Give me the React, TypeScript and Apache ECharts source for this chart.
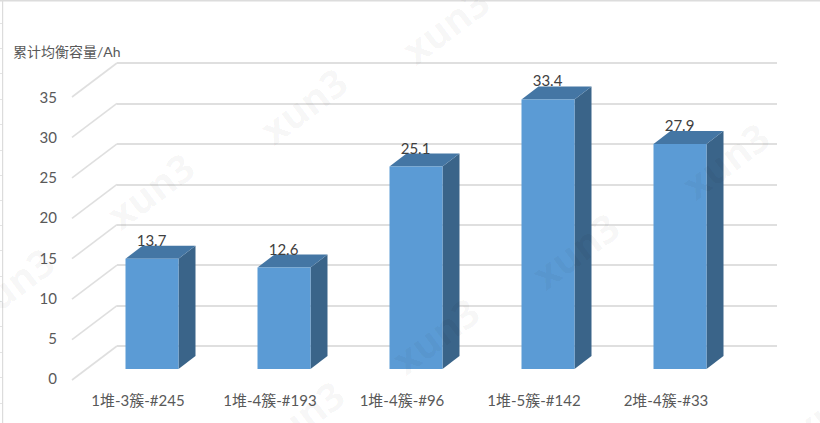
import React, { useEffect, useRef } from "react";
import * as echarts from "echarts";

const categories = ["1堆-3簇-#245", "1堆-4簇-#193", "1堆-4簇-#96", "1堆-5簇-#142", "2堆-4簇-#33"];
const values = [13.7, 12.6, 25.1, 33.4, 27.9];
const yTicks = [0, 5, 10, 15, 20, 25, 30, 35];
const yAxisTitle = "累计均衡容量/Ah";
const watermarkText = "xun3";
const watermarks = [
  [10, 285], [150, 190], [303, 105], [445, 25],
  [300, 418], [435, 335], [575, 250], [725, 160], [835, 405],
];
const sheetTicks = [23, 48, 73, 99, 124, 150, 175, 200, 225, 250, 276, 301, 326, 352, 377, 403];

const FONT = "Lato, 'Noto Sans CJK SC', sans-serif";
const GRID_LINE = "#DFDFDF";
const DX = 45, DY = 34; // wall-to-front shift of the axis lines

export default function App() {
  const ref = useRef<HTMLDivElement>(null);
  useEffect(() => {
    const chart = echarts.init(ref.current!, undefined, { renderer: "svg" });
    const labelColor = "#595959";
    chart.setOption({
      animation: false,
      backgroundColor: "#fff",
      grid: [
        { left: 117, top: 63, width: 660, height: 283 },
        { left: 72, top: 97, width: 660, height: 281 },
      ],
      xAxis: [
        { type: "category", gridIndex: 0, data: categories, show: false },
        {
          type: "category", gridIndex: 1, data: categories,
          axisLine: { show: false }, axisTick: { show: false },
          axisLabel: { color: labelColor, fontSize: 15, fontFamily: FONT, margin: 14, interval: 0 },
        },
      ],
      yAxis: [
        {
          type: "value", gridIndex: 0, min: 0, max: 35, interval: 5,
          axisLine: { show: false }, axisTick: { show: false }, axisLabel: { show: false },
          splitLine: { show: true, lineStyle: { color: GRID_LINE, width: 2 } },
        },
        {
          type: "value", gridIndex: 1, min: 0, max: 35, interval: 5,
          axisLine: { show: false }, axisTick: { show: false }, splitLine: { show: false },
          axisLabel: { color: labelColor, fontSize: 15, fontFamily: FONT, margin: 15 },
        },
      ],
      series: [
        {
          type: "custom", xAxisIndex: 0, yAxisIndex: 0, z: 2, silent: true,
          data: yTicks.map((t) => [0, t]),
          encode: { x: 0, y: 1 },
          renderItem: (params: any, api: any) => {
            const y = api.coord([0, api.value(1)])[1];
            const x = params.coordSys.x;
            return {
              type: "line",
              shape: { x1: x, y1: y, x2: x - DX, y2: y + DY },
              style: { stroke: GRID_LINE, lineWidth: 1.6 },
            };
          },
        },
        {
          type: "custom", xAxisIndex: 0, yAxisIndex: 0, z: 3, silent: true,
          data: values.map((v, i) => [i, v]),
          encode: { x: 0, y: 1 },
          renderItem: (_p: any, api: any) => {
            const v = api.value(1);
            const top = api.coord([api.value(0), v]);
            const base = api.coord([api.value(0), 0]);
            const w = 53, dx = 17, dy = 13;
            const l = top[0] - 31 - w / 2, r = l + w;
            const t = top[1] + 23.5, b = base[1] + 23;
            return {
              type: "group",
              children: [
                { type: "polygon", shape: { points: [[r, t], [r + dx, t - dy], [r + dx, b - dy], [r, b]] }, style: { fill: "#3A6489" } },
                { type: "polygon", shape: { points: [[l, t], [l + dx, t - dy], [r + dx, t - dy], [r, t]] }, style: { fill: "#4476A4" } },
                { type: "rect", shape: { x: l, y: t, width: w, height: b - t }, style: { fill: "#5B9BD5" } },
                {
                  type: "text", x: (l + r) / 2 - 0.5, y: t - 19,
                  style: { text: String(v), fill: "#404040", fontSize: 15, fontFamily: FONT, align: "center", verticalAlign: "middle" },
                },
              ],
            };
          },
        },
      ],
      graphic: [
        {
          type: "text", left: 13, top: 44, z: 10,
          style: { text: yAxisTitle, fill: labelColor, fontSize: 14, fontFamily: FONT },
        },
        { type: "rect", shape: { x: 0, y: 0, width: 820, height: 1.5 }, style: { fill: "#DCDCDC" }, z: 1 },
        { type: "rect", shape: { x: 2, y: 0, width: 1.2, height: 423 }, style: { fill: "#DCDCDC" }, z: 1 },
        ...sheetTicks.map((y) => ({
          type: "rect", shape: { x: 0, y, width: 2, height: 1 }, style: { fill: "#E4E4E4" }, z: 1,
        })),
        ...watermarks.map(([x, y]) => ({
          type: "text", x, y, rotation: (37 * Math.PI) / 180, z: 20, silent: true,
          style: {
            text: watermarkText, fill: "rgba(0,0,0,0.045)", fontSize: 39, fontWeight: "bold", fontFamily: "'Open Sans', sans-serif",
            align: "center", verticalAlign: "middle",
          },
        })),
      ],
    });
    return () => chart.dispose();
  }, []);
  return <div ref={ref} style={{ position: "fixed", left: 0, top: 0, width: 820, height: 423 }} />;
}
